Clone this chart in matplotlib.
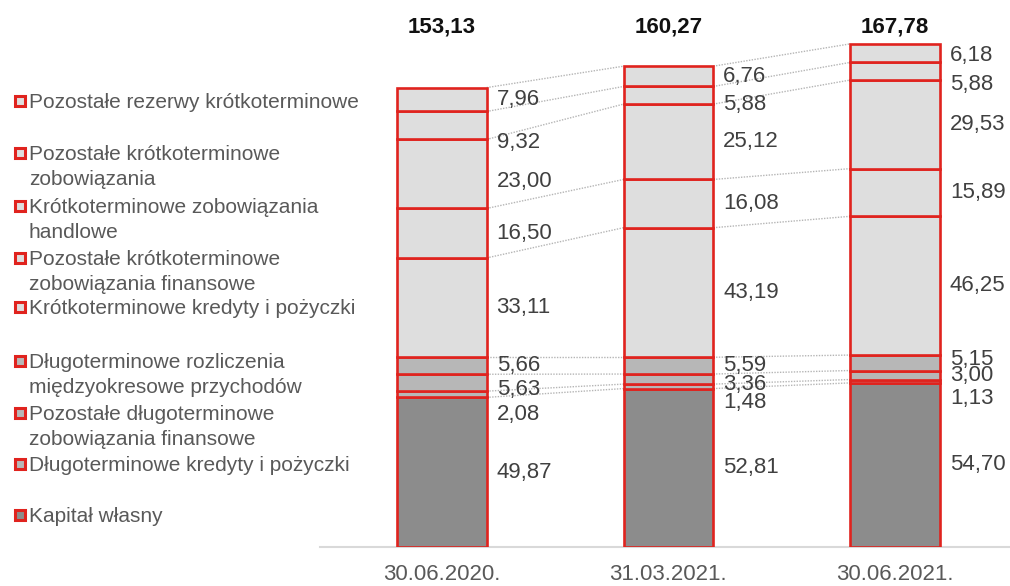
import numpy as np
import matplotlib.pyplot as plt
from matplotlib.patches import Rectangle

plt.rcParams['font.family'] = ['Liberation Sans', 'DejaVu Sans']

dates = ['30.06.2020.', '31.03.2021.', '30.06.2021.']
totals = ['153,13', '160,27', '167,78']

# segments from bottom to top
series = [
    'Kapitał własny',
    'Długoterminowe kredyty i pożyczki',
    'Pozostałe długoterminowe\nzobowiązania finansowe',
    'Długoterminowe rozliczenia\nmiędzyokresowe przychodów',
    'Krótkoterminowe kredyty i pożyczki',
    'Pozostałe krótkoterminowe\nzobowiązania finansowe',
    'Krótkoterminowe zobowiązania\nhandlowe',
    'Pozostałe krótkoterminowe\nzobowiązania',
    'Pozostałe rezerwy krótkoterminowe',
]
values = np.array([
    [49.87, 52.81, 54.70],
    [2.08, 1.48, 1.13],
    [5.63, 3.36, 3.00],
    [5.66, 5.59, 5.15],
    [33.11, 43.19, 46.25],
    [16.50, 16.08, 15.89],
    [23.00, 25.12, 29.53],
    [9.32, 5.88, 5.88],
    [7.96, 6.76, 6.18],
])

dark = '#8c8c8c'
mid = '#b7b7b7'
light = '#dedede'
fills = [dark, mid, mid, mid, light, light, light, light, light]
red = '#e0231e'

# label nudges in pixels (down positive), to keep small labels apart
nudge = [
    [0, 0, 0],
    [20, 16, 17],
    [7, 5, 0],
    [0, 0, -3],
    [0, 0, 0],
    [0, 0, 0],
    [8, 0, 0],
    [17, 9, 13],
    [0, 0, 2],
]

W, H = 1010, 586
fig = plt.figure(figsize=(W / 100, H / 100), dpi=100)
ax = fig.add_axes([320 / W, (H - 547) / H, 690 / W, 547 / H])

x = np.arange(len(dates))
width = 0.396
bottoms = np.vstack([np.zeros(3), np.cumsum(values, axis=0)])

for k in range(len(series)):
    ax.bar(x, values[k], width, bottom=bottoms[k], color=fills[k],
           edgecolor=red, linewidth=1.9, zorder=3)

# dotted connectors between bars
for k in range(1, len(series) + 1):
    for i in range(len(dates) - 1):
        ax.plot([x[i] + width / 2, x[i + 1] - width / 2],
                [bottoms[k][i], bottoms[k][i + 1]],
                color='#b5b5b5', lw=1, ls=(0, (1, 1)), zorder=1)

# value labels
for k in range(len(series)):
    for i in range(len(dates)):
        yc = bottoms[k][i] + values[k][i] / 2
        ax.annotate(f'{values[k][i]:.2f}'.replace('.', ','),
                    (x[i] + width / 2, yc), xytext=(10, -nudge[k][i]),
                    textcoords='offset pixels', ha='left', va='center',
                    fontsize=16, color='#404040', zorder=4)

for i in range(len(dates)):
    ax.text(x[i], 173.3, totals[i], ha='center', va='center',
            fontsize=16, fontweight='bold', color='#111111')

ax.set_xlim(-0.537, 2.507)
ax.set_ylim(0, 547 / 3)
ax.set_xticks(x)
ax.set_xticklabels(dates, fontsize=16, color='#595959')
ax.tick_params(axis='x', length=0, pad=12)
ax.set_yticks([])
for s in ['top', 'right', 'left']:
    ax.spines[s].set_visible(False)
ax.spines['bottom'].set_color('#d9d9d9')
ax.spines['bottom'].set_linewidth(1.5)

# legend drawn by hand, top entry first
legend_y = [101, 153, 206, 258, 307, 361, 413, 464, 515]
for j, k in enumerate(range(len(series) - 1, -1, -1)):
    yp = legend_y[j]
    fig.patches.append(Rectangle((14.5 / W, (H - yp - 5) / H), 10 / W, 10 / H,
                                 transform=fig.transFigure, facecolor=fills[k],
                                 edgecolor=red, linewidth=2.2))
    fig.text(29 / W, (H - yp + 8) / H, series[k], ha='left', va='top',
             fontsize=15, color='#595959', linespacing=1.38)

fig.savefig('out.png', dpi=100)
